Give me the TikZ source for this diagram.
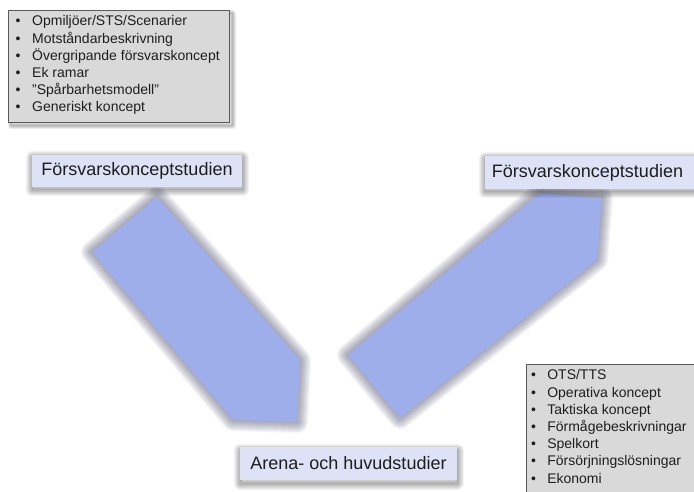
\documentclass[tikz,border=0pt]{standalone}
\usepackage{fontspec}
\setmainfont{Liberation Sans}
\definecolor{arrowblue}{HTML}{9DAEEA}
\definecolor{glowgray}{HTML}{5A5A78}
\definecolor{labelfill}{HTML}{DDE2F7}
\definecolor{boxgray}{HTML}{D9D9D9}
\definecolor{boxborder}{HTML}{5A5A5A}
\definecolor{textdark}{HTML}{1E1E1E}
\tikzset{
  glowline/.style={draw=glowgray, line join=round, draw opacity=0.06, fill=none},
  shadeline/.style={draw=black, line join=round, draw opacity=0.05, fill=none},
  arrowshape/.style={fill=arrowblue, draw=none},
  labelbox/.style={fill=labelfill, inner sep=0pt, text=textdark, font=\fontsize{18}{21}\selectfont},
  listbox/.style={fill=boxgray, draw=boxborder, line width=1pt},
  listtext/.style={inner sep=0pt, anchor=west, text=textdark, font=\fontsize{14}{17.2}\selectfont},
}
\newcommand\glowpath[1]{\foreach \w in {2,4,...,22}{\draw[glowline, line width=\w pt] #1;}}
\newcommand\shadepath[1]{\foreach \w in {1,3,...,13}{\draw[shadeline, line width=\w pt] #1;}}
\begin{document}
\begin{tikzpicture}[x=1pt,y=-1pt]
\useasboundingbox (0,0) rectangle (694,492);
\clip (0,0) rectangle (694,492);
\fill[white] (0,0) rectangle (694,492);

% --- left arrow (pointing down-right)
\coordinate (la1) at (157,197);
\coordinate (la2) at (300,360);
\coordinate (la3) at (297,422);
\coordinate (la4) at (233,420);
\coordinate (la5) at (92,252);
\begin{scope}[shift={(2,3)}]
\glowpath{(la1) -- (la2) -- (la3) -- (la4) -- (la5) -- cycle}
\end{scope}
\fill[arrowshape] (la1) -- (la2) -- (la3) -- (la4) -- (la5) -- cycle;

% --- right arrow (pointing up-right)
\coordinate (ra1) at (348,355);
\coordinate (ra2) at (540,193);
\coordinate (ra3) at (602,198);
\coordinate (ra4) at (597,260);
\coordinate (ra5) at (400,418);
\begin{scope}[shift={(2,3)}]
\glowpath{(ra1) -- (ra2) -- (ra3) -- (ra4) -- (ra5) -- cycle}
\end{scope}
\fill[arrowshape] (ra1) -- (ra2) -- (ra3) -- (ra4) -- (ra5) -- cycle;

% --- label shadows
\shadepath{(32,158) rectangle (242,190)}
\shadepath{(485,159) rectangle (700,192)}
\shadepath{(240,450) rectangle (457,483)}

% --- labels
\node[labelbox, minimum width=210pt, minimum height=32pt] (lleft) at (137,171) {Försvarskonceptstudien};
\node[labelbox, minimum width=215pt, minimum height=33pt] (lright) at (592.5,172.5) {\hspace*{-10pt}Försvarskonceptstudien};
\node[labelbox, minimum width=217pt, minimum height=33pt] (lbottom) at (348.5,463.5) {Arena- och huvudstudier};

% --- top-left list box
\foreach \w in {1,3,5,7}{\draw[shadeline, line width=\w pt, draw opacity=0.08] (11,14) rectangle (232,126);}
\draw[listbox] (8,11) rectangle (229,123);
\node[listtext] (tllist) at (15.5,65.5) {%
\begin{tabular}{@{}l@{\hspace{11.6pt}}l@{}}
• & Opmiljöer/STS/Scenarier\\
• & Motståndarbeskrivning\\
• & Övergripande försvarskoncept\\
• & Ek ramar\\
• & "Spårbarhetsmodell"\\
• & Generiskt koncept
\end{tabular}};

% --- bottom-right list box
\foreach \w in {1,3,5,7}{\draw[shadeline, line width=\w pt, draw opacity=0.08] (529,367) rectangle (720,520);}
\draw[listbox] (526,364) rectangle (720,520);
\node[listtext] (brlist) at (531,428) {%
\begin{tabular}{@{}l@{\hspace{11.2pt}}l@{}}
• & OTS/TTS\\
• & Operativa koncept\\
• & Taktiska koncept\\
• & Förmågebeskrivningar\\
• & Spelkort\\
• & Försörjningslösningar\\
• & Ekonomi
\end{tabular}};
\end{tikzpicture}
\end{document}
